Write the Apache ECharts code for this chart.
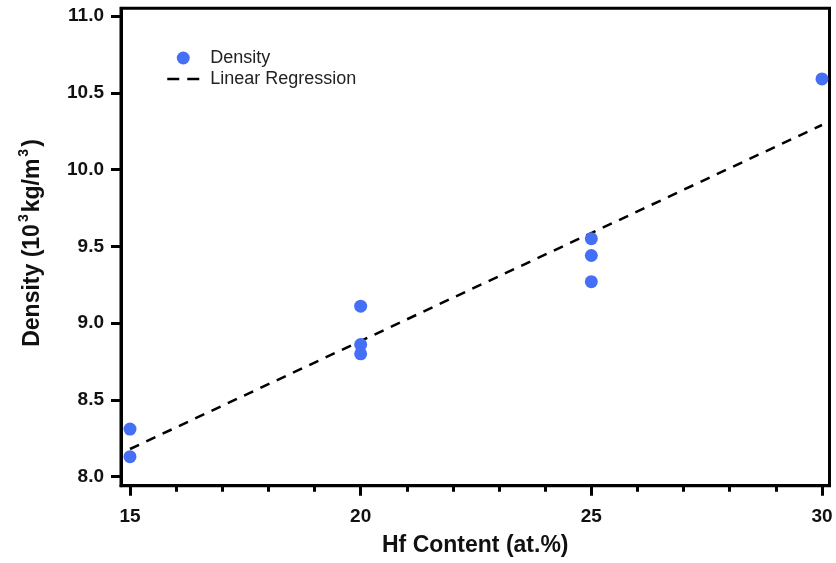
<!DOCTYPE html>
<html>
<head>
<meta charset="utf-8">
<script src="https://cdn.jsdelivr.net/npm/echarts@6/dist/echarts.min.js"></script>
<style>
  html, body { margin: 0; padding: 0; background: #fff; }
  #chart { width: 836px; height: 563px; }
</style>
</head>
<body>
<div id="chart"></div>
<script>
// measured points
var hfContent = [15, 15, 20, 20, 20, 25, 25, 25, 30];
var density = [8.31, 8.13, 9.11, 8.86, 8.80, 9.55, 9.44, 9.27, 10.59];
// regression line end points
var fitX = [15, 30];
var fitY = [8.18, 10.29];
// ticks
var xTicks = [15, 20, 25, 30];
var xMinorTicks = [16, 17, 18, 19, 21, 22, 23, 24, 26, 27, 28, 29];
var yTicks = [8.0, 8.5, 9.0, 9.5, 10.0, 10.5, 11.0];

var font = '"Liberation Sans", Arial, sans-serif';
var blue = '#4570f5';

var points = hfContent.map(function (x, i) { return [x, density[i]]; });
var fitLine = fitX.map(function (x, i) { return [x, fitY[i]]; });

var myChart = echarts.init(document.getElementById('chart'));

var option = {
    animation: false,
    grid: {
        left: 121, right: 6.5, top: 8.3, bottom: 77.3,
        show: true,
        borderColor: '#000',
        borderWidth: 3
    },
    legend: {
        orient: 'vertical',
        left: 161,
        top: 44,
        itemWidth: 32,
        itemHeight: 13,
        itemGap: 3,
        textStyle: {
            fontFamily: font,
            fontSize: 18,
            color: '#222',
            padding: [0, 0, 0, 6]
        },
        data: [
            { name: 'Density' },
            { name: 'Linear Regression', itemStyle: { opacity: 0 }, lineStyle: { type: [12, 8], width: 2.5 } }
        ]
    },
    xAxis: [
        {
            type: 'value',
            min: 14.805,
            max: 30.163,
            splitLine: { show: false },
            axisLine: { lineStyle: { color: '#000', width: 3 } },
            axisTick: { customValues: xTicks, length: 10, lineStyle: { color: '#000', width: 3 } },
            axisLabel: {
                customValues: xTicks,
                margin: 22,
                fontFamily: font,
                fontSize: 19,
                fontWeight: 'bold',
                color: '#111'
            },
            name: 'Hf Content (at.%)',
            nameLocation: 'middle',
            nameGap: 48,
            nameTextStyle: {
                fontFamily: font,
                fontSize: 23,
                fontWeight: 'bold',
                color: '#111'
            }
        },
        {
            type: 'value',
            position: 'bottom',
            min: 14.805,
            max: 30.163,
            splitLine: { show: false },
            axisLine: { show: false },
            axisTick: { customValues: xMinorTicks, length: 6, lineStyle: { color: '#000', width: 3 } },
            axisLabel: { show: false }
        }
    ],
    yAxis: {
        type: 'value',
        min: 7.941,
        max: 11.05,
        splitLine: { show: false },
        axisLine: { lineStyle: { color: '#000', width: 3 } },
        axisTick: { customValues: yTicks, length: 10, lineStyle: { color: '#000', width: 3 } },
        axisLabel: {
            customValues: yTicks,
            margin: 17,
            fontFamily: font,
            fontSize: 19,
            fontWeight: 'bold',
            color: '#111',
            formatter: function (v) { return v.toFixed(1); }
        },
        name: 'Density (10{sup|3}kg/m{sup|3})',
        nameLocation: 'middle',
        nameGap: 72,
        nameTextStyle: {
            fontFamily: font,
            fontSize: 23,
            fontWeight: 'bold',
            color: '#111',
            padding: [0, 0, 0, 8],
            rich: {
                sup: {
                    fontFamily: font,
                    fontSize: 14,
                    fontWeight: 'bold',
                    color: '#111',
                    padding: [0, 2, 18, 2]
                }
            }
        }
    },
    series: [
        {
            name: 'Linear Regression',
            type: 'line',
            data: fitLine,
            symbol: 'none',
            z: 2,
            lineStyle: { color: '#000', width: 2.5, type: [10, 8] },
            itemStyle: { color: '#000' }
        },
        {
            name: 'Density',
            type: 'scatter',
            data: points,
            symbolSize: 13,
            z: 3,
            itemStyle: { color: blue, opacity: 1 }
        }
    ]
};

myChart.setOption(option);
</script>
</body>
</html>
